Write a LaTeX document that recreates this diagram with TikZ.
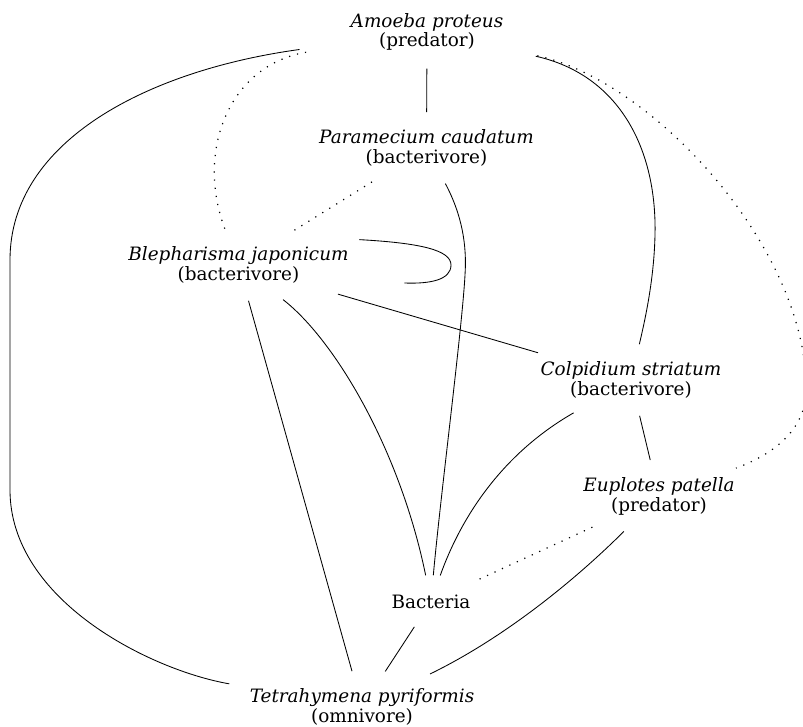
\documentclass[tikz,border=0pt]{standalone}
\usepackage{fontspec}
\setmainfont{DejaVu Serif}
\usetikzlibrary{shapes.geometric}

\begin{document}
\begin{tikzpicture}[x=1pt, y=-1pt,
    species/.style={ellipse, align=center, inner xsep=10.6pt, inner ysep=7pt,
                    minimum height=70pt, font=\fontsize{18.4}{19.6}\selectfont},
    food/.style={ellipse, inner xsep=10.6pt, minimum height=52pt,
                 font=\fontsize{18.4}{19.6}\selectfont},
    eats/.style={line width=0.85pt},
    weak/.style={line width=1.2pt, dash pattern=on 1.2pt off 7pt}]
            \useasboundingbox (0,0) rectangle (803,727);
            %\draw[red] (0,0) rectangle (803,727);
            \node[species, minimum width=290pt] (amoeba) at (427,32) {\textit{Amoeba proteus}\\(predator)};
            \node[species] (param) at (426.5,148) {\textit{Paramecium caudatum}\\(bacterivore)};
            \node[species] (bleph) at (238.5,265) {\textit{Blepharisma japonicum}\\(bacterivore)};
            \node[species] (colp) at (631,380) {\textit{Colpidium striatum}\\(bacterivore)};
            \node[species] (eupl) at (659,496.5) {\textit{Euplotes patella}\\(predator)};
            \node[food] (bact) at (431,601.4) {Bacteria};
            \node[species] (tetra) at (362,707) {\textit{Tetrahymena pyriformis}\\(omnivore)};

            \draw[eats] (amoeba) -- (param);
            \draw[weak] (amoeba) .. controls (230,65) and (195,150) .. (bleph);
            \draw[eats] (amoeba) .. controls (150,70) and (10,140) .. (10,260) -- (10,490)
                .. controls (10,600) and (150,670) .. (tetra);
            \draw[eats] (amoeba) .. controls (620,75) and (657,150) .. (655,235)
                .. controls (654,280) and (645,320) .. (colp);
            \draw[weak] (amoeba) .. controls (650,80) and (800,240) .. (806,380)
                .. controls (810,420) and (785,450) .. (eupl);

            \draw[weak] (param) -- (bleph);
            \draw[eats] (param) .. controls (462,215) and (467,245) .. (465,275)
                .. controls (462,330) and (440,500) .. (bact);

            \draw[eats] (bleph.north east) .. controls (420,243) and (451,250) .. (451,265)
                .. controls (451,280) and (430,284) .. ([shift={(-5,18)}]bleph.east);
            \draw[eats] (bleph) -- (colp);
            \draw[eats] (bleph) .. controls (335,340) and (400,450) .. (bact);
            \draw[eats] (bleph) -- (tetra);

            \draw[eats] (colp) .. controls (500,455) and (460,520) .. (bact);
            \draw[eats] (colp) -- (eupl);

            \draw[weak] (eupl) -- (bact);
            \draw[eats] (eupl) .. controls (570,585) and (500,640) .. (tetra);

            \draw[eats] (bact) -- (tetra);
\end{tikzpicture}
\end{document}
